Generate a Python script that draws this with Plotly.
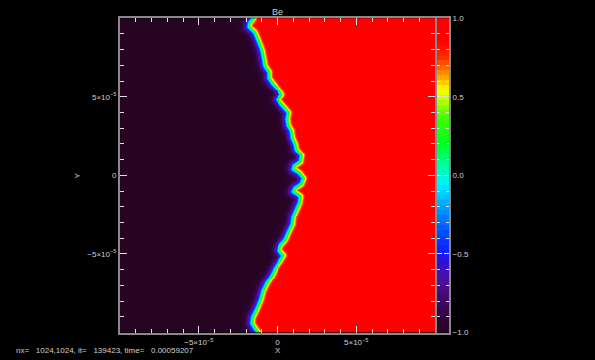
import numpy as np
import plotly.graph_objects as go

# Front position (interface between the two species), units of 1e-6
front_y = [100.6, 97.4, 94.2, 90.4, 86.0, 79.6, 73.3, 69.5, 65.7, 61.9, 58.1, 54.2,
           51.1, 47.9, 44.1, 39.7, 35.2, 31.4, 28.2, 23.8, 19.4, 16.2, 12.4, 8.6,
           6.0, 3.5, 1.0, -2.2, -5.4, -7.9, -10.5, -13.6, -17.4, -21.9, -26.3,
           -31.4, -36.5, -40.9, -44.7, -47.9, -51.1, -54.9, -58.7, -63.8, -68.8,
           -73.9, -79.0, -85.3, -90.4, -94.2, -97.4, -99.9]
front_x = [-15.6, -18.1, -18.7, -14.9, -13.0, -10.5, -9.2, -8.6, -6.0, -6.0, -3.5, 0.3,
           2.2, -0.3, 2.9, 6.7, 6.0, 6.7, 8.6, 9.2, 11.1, 11.7, 14.9, 14.3,
           10.5, 9.8, 13.7, 16.2, 14.9, 11.1, 9.8, 14.3, 13.7, 11.7, 9.8,
           9.2, 6.7, 4.8, 1.6, 0.3, 3.5, 1.0, -1.6, -4.1, -7.3,
           -9.8, -11.1, -13.7, -16.2, -16.8, -14.9, -13.0]
front_width = 2.9  # tanh width, units of 1e-6
unit = 1e-6

# Field limits and labels
field_min, field_max = -1.0, 1.0
x_tickvals = [-5e-5, 0, 5e-5]
x_ticktext = ["\u22125\u00d710<sup>\u22125</sup>", "0", "5\u00d710<sup>\u22125</sup>"]
y_tickvals = [-5e-5, 0, 5e-5]
y_ticktext = ["\u22125\u00d710<sup>\u22125</sup>", "0", "5\u00d710<sup>\u22125</sup>"]
cb_tickvals = [-1.0, -0.5, 0.0, 0.5, 1.0]
cb_ticktext = ["\u22121.0", "\u22120.5", "0.0", "0.5", "1.0"]
title_text = "Be"
info_text = "nx=&nbsp;&nbsp;&nbsp;1024,1024, it=&nbsp;&nbsp;&nbsp;139423, time=&nbsp;&nbsp;&nbsp;0.00059207"

# Grid
n = 320
xs = np.linspace(-1e-4, 1e-4, n)
ys = np.linspace(-1e-4, 1e-4, n)
X, Y = np.meshgrid(xs, ys)

px = np.array(front_x) * unit
py = np.array(front_y) * unit
# Unsigned distance to the front polyline
d = np.full(X.shape, np.inf)
for i in range(len(px) - 1):
    ax_, ay_ = px[i], py[i]
    bx_, by_ = px[i + 1], py[i + 1]
    vx, vy = bx_ - ax_, by_ - ay_
    t = ((X - ax_) * vx + (Y - ay_) * vy) / (vx * vx + vy * vy)
    t = np.clip(t, 0, 1)
    cx = ax_ + t * vx
    cy = ay_ + t * vy
    d = np.minimum(d, np.hypot(X - cx, Y - cy))
order = np.argsort(py)
xf = np.interp(Y, py[order], px[order])
sign = np.where(X >= xf, 1.0, -1.0)
Z = np.tanh(sign * d / (front_width * unit))

colorscale = [
    [0.00, "#260422"], [0.05, "#300440"], [0.10, "#400860"], [0.17, "#5010a0"],
    [0.22, "#3010d0"], [0.26, "#1020ff"], [0.32, "#0050ff"], [0.40, "#00a0ff"],
    [0.47, "#00f0ff"], [0.52, "#00ffb0"], [0.60, "#00ff20"], [0.68, "#40ff00"],
    [0.74, "#c0ff00"], [0.77, "#ffff00"], [0.79, "#ffd000"], [0.83, "#ff8000"],
    [0.87, "#ff3000"], [0.93, "#ff0000"], [1.00, "#ff0000"],
]

fig = go.Figure()
fig.add_trace(go.Heatmap(x=xs, y=ys, z=Z, colorscale=colorscale, zmin=field_min,
                         zmax=field_max, showscale=False, hoverinfo="skip",
                         xaxis="x", yaxis="y"))

cb_vals = np.linspace(field_min, field_max, 64)
fig.add_trace(go.Heatmap(x=[0, 1], y=cb_vals, z=np.column_stack([cb_vals, cb_vals]),
                         colorscale=colorscale, zmin=field_min, zmax=field_max,
                         showscale=False, hoverinfo="skip", xaxis="x2", yaxis="y2"))

W, H = 595, 360
fx0, fx1 = 120 / W, 435 / W
cx0, cx1 = 437 / W, 449 / W
fy0, fy1 = (H - 337) / H, (H - 14.5) / H

font = "Liberation Sans"
tickfont = dict(family=font, size=8, color="#d0d0d0")
axline = dict(showline=True, linecolor="#8a8a8a", linewidth=2, mirror="allticks",
              ticks="inside", tickcolor="#e0e0e0", tickwidth=1, showgrid=False,
              zeroline=False, tickfont=tickfont)

fig.update_layout(
    width=W, height=H, margin=dict(l=0, r=0, t=0, b=0),
    paper_bgcolor="black", plot_bgcolor="black", showlegend=False,
    xaxis=dict(domain=[fx0, fx1], range=[-1e-4, 1e-4], tickvals=x_tickvals,
               ticktext=x_ticktext, ticklen=7, anchor="y", ticklabelstandoff=1,
               minor=dict(dtick=1e-5, tick0=0, ticklen=4, ticks="inside",
                          tickcolor="#e0e0e0"), **axline),
    yaxis=dict(domain=[fy0, fy1], range=[-1e-4, 1e-4], tickvals=y_tickvals,
               ticktext=y_ticktext, ticklen=7, anchor="x", ticklabelstandoff=0,
               minor=dict(dtick=1e-5, tick0=0, ticklen=4, ticks="inside",
                          tickcolor="#e0e0e0"), **axline),
    xaxis2=dict(domain=[cx0, cx1], range=[-0.5, 1.5], showticklabels=False,
                anchor="y2", showline=True, linecolor="#8a8a8a", linewidth=2,
                mirror=True, ticks="", showgrid=False, zeroline=False),
    yaxis2=dict(domain=[fy0, fy1], range=[field_min, field_max], side="right",
                anchor="x2", tickvals=cb_tickvals, ticktext=cb_ticktext, ticklen=5,
                minor=dict(dtick=0.1, tick0=0, ticklen=3, ticks="inside",
                           tickcolor="#e0e0e0"), **axline),
    annotations=[
        dict(text=title_text, x=(fx0 + fx1) / 2, y=(H - 8) / H, xref="paper",
             yref="paper", showarrow=False, xanchor="center", yanchor="middle",
             font=dict(family=font, size=9, color="#d0d0d0")),
        dict(text="X", x=(fx0 + fx1) / 2, y=(H - 355.5) / H, xref="paper", yref="paper",
             showarrow=False, xanchor="center", yanchor="middle", font=tickfont),
        dict(text="Y", x=78 / W, y=(H - 176) / H, xref="paper", yref="paper",
             showarrow=False, textangle=-90, xanchor="center", yanchor="middle",
             font=tickfont),
        dict(text=info_text, x=14 / W, y=(H - 355.5) / H, xref="paper", yref="paper",
             xanchor="left", yanchor="middle", showarrow=False,
             font=dict(family=font, size=8, color="#d0d0d0")),
    ],
)

fig.write_html("out.html")
